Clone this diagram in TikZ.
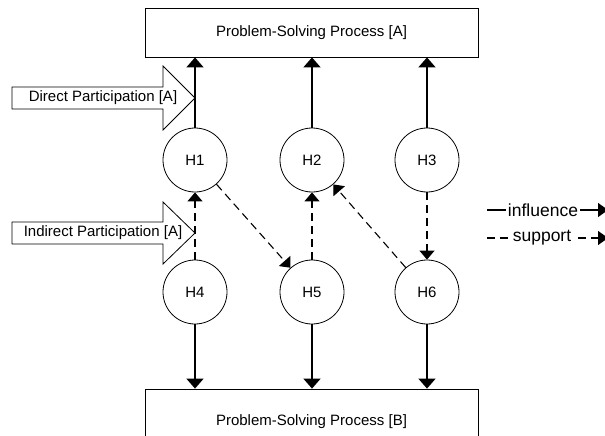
\documentclass[tikz,border=0pt]{standalone}
\usepackage{fontspec}
\setmainfont{Liberation Sans}
\usetikzlibrary{arrows.meta}

\begin{document}
\begin{tikzpicture}[x=1pt,y=-1pt,
  hyp/.style={circle, draw, line width=0.8pt, minimum size=64pt, inner sep=0pt,
    font=\fontsize{15}{17}\selectfont},
  procbox/.style={draw, line width=0.8pt, minimum width=333pt, inner sep=0pt,
    font=\fontsize{15}{17}\selectfont},
  partarrow/.style={draw, line width=0.8pt, fill=white},
  parttext/.style={inner sep=0pt, font=\fontsize{15}{17}\selectfont},
  influence/.style={line width=1.7pt, -{Triangle[width=17pt,length=10pt]}},
  support/.style={line width=1.1pt, dash pattern=on 8pt off 5pt,
    -{Triangle[width=15pt,length=9pt]}},
  legendtext/.style={fill=white, inner xsep=2pt, inner ysep=1pt,
    font=\fontsize{17.5}{19}\selectfont}
]
\useasboundingbox (0,0) rectangle (605,436);

% process boxes
\node[procbox, minimum height=49pt] (psA) at (311.5,32.5) {Problem-Solving Process [A]};
\node[procbox, minimum height=66pt] (psB) at (311.5,422) {Problem-Solving Process [B]};

% participation arrows
\draw[partarrow] (12,87) -- (163,87) -- (163,66) -- (195,98) -- (163,130)
  -- (163,109) -- (12,109) -- cycle;
\node[parttext] (direct) at (103,98) {Direct Participation [A]};
\draw[partarrow] (12,222) -- (163,222) -- (163,202) -- (195,233) -- (163,264)
  -- (163,244) -- (12,244) -- cycle;
\node[parttext] (indirect) at (103,233) {Indirect Participation [A]};

% hypotheses
\node[hyp] (H1) at (195,160) {H1};
\node[hyp] (H2) at (312,160) {H2};
\node[hyp] (H3) at (427,160) {H3};
\node[hyp] (H4) at (195,292) {H4};
\node[hyp] (H5) at (312,292) {H5};
\node[hyp] (H6) at (427,292) {H6};

% influence links
\draw[influence] (H1) -- (H1 |- psA.south);
\draw[influence] (H2) -- (H2 |- psA.south);
\draw[influence] (H3) -- (H3 |- psA.south);
\draw[influence] (H4) -- (H4 |- psB.north);
\draw[influence] (H5) -- (H5 |- psB.north);
\draw[influence] (H6) -- (H6 |- psB.north);

% support links
\draw[support] (H4) -- (H1);
\draw[support] (H1) -- (H5);
\draw[support] (H5) -- (H2);
\draw[support] (H6) -- (H2);
\draw[support] (H3) -- (H6);

% legend
\coordinate (infL) at (487,210);
\coordinate (infR) at (608,210);
\draw[line width=1.5pt, -{Triangle[width=14pt,length=10pt]}] (infL) -- (infR);
\node[legendtext] (inftext) at (543,210) {influence};
\coordinate (supL) at (487,238);
\coordinate (supR) at (608,238);
\draw[line width=1.3pt, dash pattern=on 8pt off 5pt,
  -{Triangle[width=14pt,length=10pt]}] (supL) -- (supR);
\node[legendtext, inner xsep=1.5pt] (suptext) at (542,238) {support};
\end{tikzpicture}
\end{document}
